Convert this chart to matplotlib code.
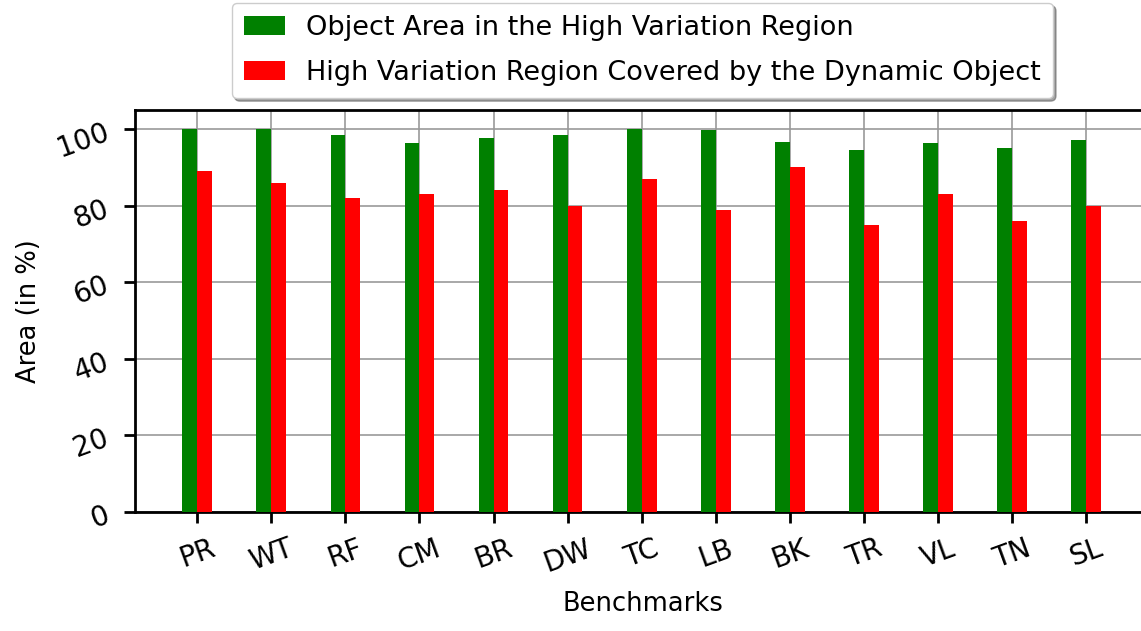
from matplotlib import pyplot as plt
import numpy as np

benchmarks = ['PR', 'WT', 'RF', 'CM', 'BR', 'DW', 'TC', 'LB', 'BK', 'TR', 'VL', 'TN', 'SL']
object_area = [100, 100, 98.4, 96.3, 97.6, 98.4, 100, 99.8, 96.6, 94.5, 96.3, 95.0, 97.1]
covered_area = [89, 86, 82, 83, 84, 80, 87, 79, 90, 75, 83, 76, 80]
y_ticks = [0, 20, 40, 60, 80, 100]

fig = plt.figure(figsize=(11.41, 6.31), dpi=100)
# right edge goes past the figure, as in the reference
ax = fig.add_axes([0.1183, 0.1886, 0.8896, 0.637])

x = np.arange(len(benchmarks))
width = 0.2
ax.bar(x - width / 2, object_area, width, color='green', zorder=3,
       label='Object Area in the High Variation Region')
ax.bar(x + width / 2, covered_area, width, color='red', zorder=3,
       label='High Variation Region Covered by the Dynamic Object')

ax.set_xlim(-0.84, 12.86)
ax.set_ylim(0, 105)
ax.set_xticks(x)
ax.set_xticklabels(benchmarks, rotation=20, fontsize=20)
ax.set_yticks(y_ticks)
ax.set_yticklabels([str(v) for v in y_ticks], rotation=20, fontsize=20)
ax.tick_params(axis='both', length=8, width=2, pad=8)

ax.grid(True, color='#999999', linewidth=1.2, zorder=0)
ax.set_axisbelow(True)
for s in ax.spines.values():
    s.set_linewidth(2)

ax.set_xlabel('Benchmarks', fontsize=18.5, labelpad=10)
ax.set_ylabel('Area (in %)', fontsize=18.5, labelpad=8)

ax.legend(loc='upper center', bbox_to_anchor=(0.5, 1.3), fontsize=19.5,
          fancybox=True, shadow=True, framealpha=1, handlelength=1.5,
          borderpad=0.45, labelspacing=0.7)

fig.savefig('out.png', dpi=100)
